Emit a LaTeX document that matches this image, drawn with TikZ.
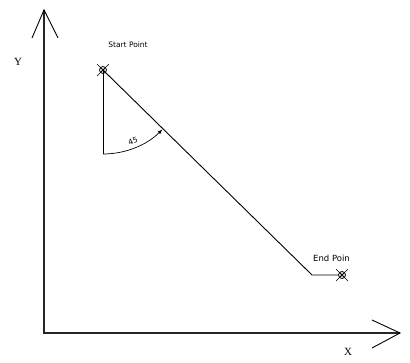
\documentclass[tikz,border=0pt]{standalone}
\usepackage{fontspec}
\newfontfamily\lblfont{DejaVu Sans}
\setmainfont{Liberation Serif}
\begin{document}
\begin{tikzpicture}[x=1pt,y=1pt,
  axis/.style={line width=1.1pt,draw=black!85},
  arm/.style={line width=0.9pt},
  path/.style={line width=0.9pt},
  lbl/.style={font=\lblfont\fontsize{7.5}{9}\selectfont,inner sep=1pt},
  ptmark/.style={circle,draw,line width=0.8pt,minimum size=7pt,inner sep=0pt,
     path picture={\draw[line width=0.8pt] (path picture bounding box.south west) -- (path picture bounding box.north east)
       (path picture bounding box.north west) -- (path picture bounding box.south east);}}]
\useasboundingbox (0,0) rectangle (410,363);
% axes
\coordinate (O) at (44,30);
\coordinate (ytip) at (44,353);
\coordinate (xtip) at (400,30);
\draw[axis] (ytip) -- (O) -- (xtip);
\draw[arm] (32,325) -- (ytip) -- (58,325);
\draw[arm] (372,43) -- (xtip) -- (372,15);
\node[font=\fontsize{11}{12}\selectfont] (ylab) at (18,301) {Y};
\node[font=\fontsize{11}{12}\selectfont] (xlab) at (348,11) {X};
% points
\node[ptmark] (sp) at (103,293) {};
\draw[line width=0.6pt] (sp.center) ++(-6,6) -- ++(12,-12) (sp.center) ++(-6,-6) -- ++(12,12);
\node[ptmark] (ep) at (342,88) {};
\draw[line width=0.6pt] (ep.center) ++(-6,6) -- ++(12,-12) (ep.center) ++(-6,-6) -- ++(12,12);
\node[lbl] (st) at (128,318) {Start Point};
\node[lbl,anchor=west,font=\lblfont\fontsize{8.5}{10}\selectfont] (et) at (312,105) {End Poin};
% path
\coordinate (bend) at (312,88);
\coordinate (vbot) at (103,209);
\draw[path] (sp.center) -- (bend) -- (ep.west);
\draw[path] (sp.center) -- (vbot);
% angle arc
\draw[line width=0.7pt,-latex] (vbot) arc[start angle=270,end angle=315,radius=84];
\node[lbl,rotate=20] (ang) at (133,222) {45};
\end{tikzpicture}
\end{document}
